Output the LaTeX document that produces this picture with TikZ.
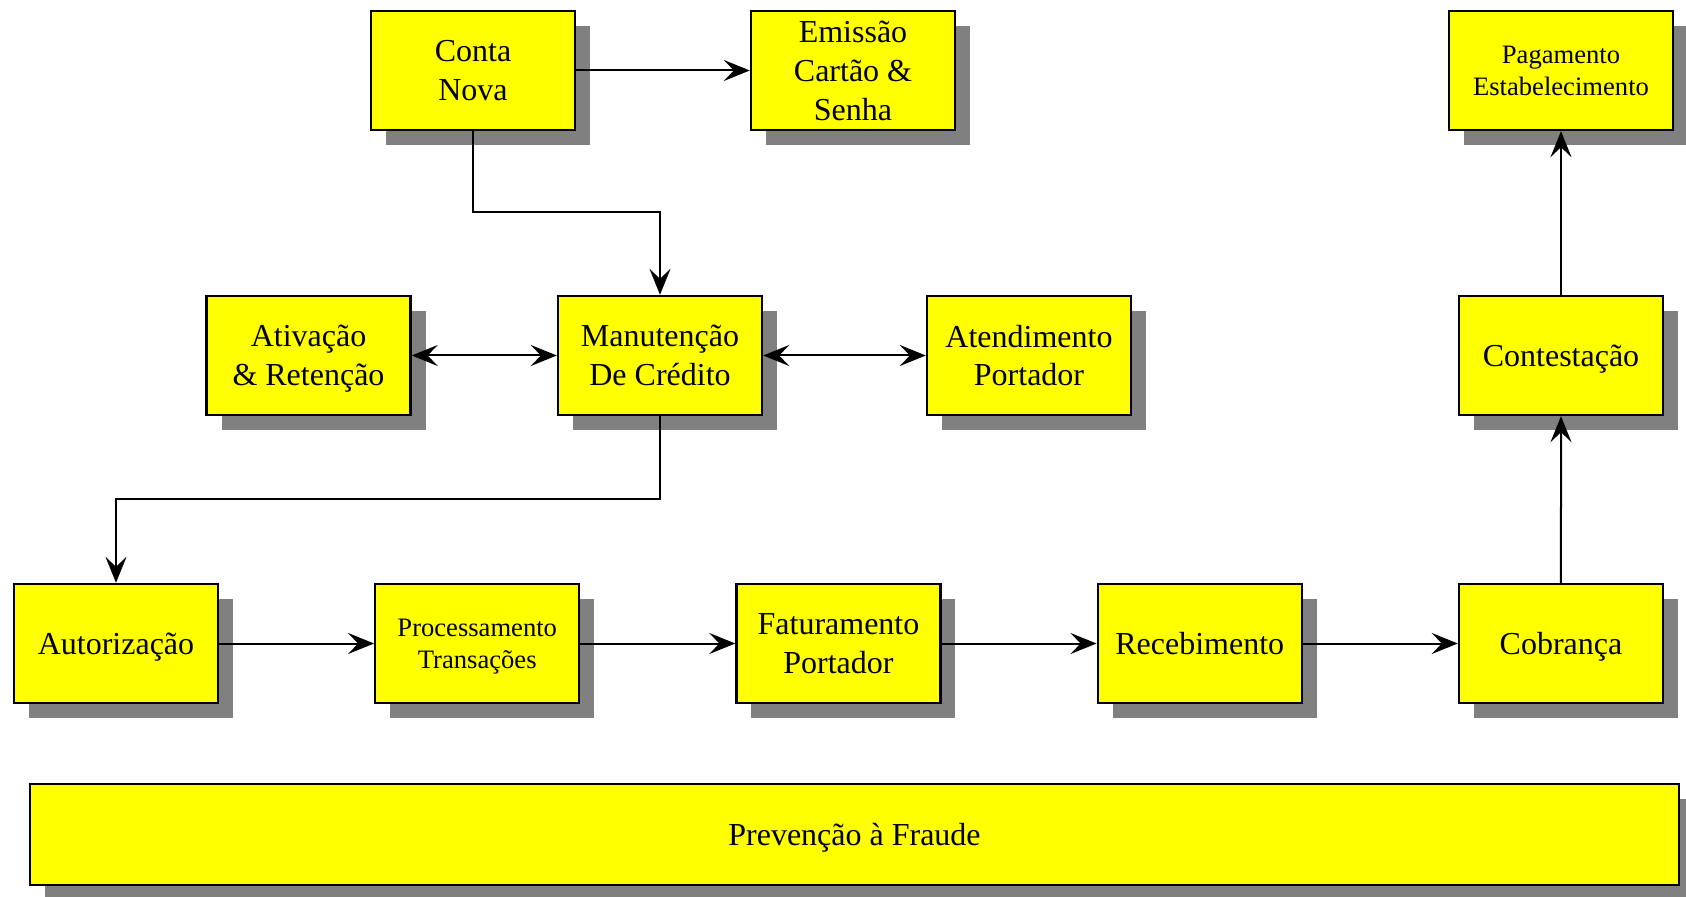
\documentclass[tikz,border=0pt]{standalone}
\usepackage{fontspec}
\setmainfont{Liberation Serif}
\usepackage{tikz}
\usetikzlibrary{calc,arrows.meta,shadows,positioning}
\definecolor{boxyellow}{RGB}{255,255,0}
\definecolor{shadowgrey}{RGB}{128,128,128}

\begin{document}
\begin{tikzpicture}[x=0.5pt,y=-0.5pt,node distance=77.42pt and 77.42pt,>={Stealth[length=13pt,width=10.5pt,inset=5pt]}]

\tikzset{yellowbox/.style={draw,line width=1.2pt,fill=boxyellow,inner sep=0pt,align=center,text depth=0pt,minimum width=102pt,minimum height=59.5pt,font=\fontsize{16}{19.4}\selectfont,drop shadow={shadow xshift=7.5pt,shadow yshift=-7.5pt,fill=shadowgrey,opacity=1}},
smalltext/.style={font=\fontsize{13.3}{16}\selectfont},
link/.style={line width=1pt}}

\useasboundingbox (0,0) rectangle (1686,897);

% top row
\node[yellowbox] (conta) at (473,70.5) {Conta\\Nova};
\node[yellowbox] (emissao) at (853,70.5) {Emiss\~ao\\Cart\~ao \&\\Senha};
\node[yellowbox,smalltext,minimum width=112pt] (pagamento) at (1561,70.5) {Pagamento\\Estabelecimento};

% middle row
\node[yellowbox] (ativacao) at (308.5,355.5) {Ativa\c{c}\~ao\\\& Reten\c{c}\~ao};
\node[yellowbox] (manutencao) at (660,355.5) {Manuten\c{c}\~ao\\De Cr\'edito};
\node[yellowbox] (atendimento) at (1029,355.5) {Atendimento\\Portador};
\node[yellowbox] (contestacao) at (1561,355.5) {Contesta\c{c}\~ao};

% bottom row
\node[yellowbox] (autorizacao) at (116,643.5) {Autoriza\c{c}\~ao};
\node[yellowbox,smalltext,right=of autorizacao] (processamento) {Processamento\\Transa\c{c}\~oes};
\node[yellowbox,right=of processamento] (faturamento) {Faturamento\\Portador};
\node[yellowbox,right=of faturamento] (recebimento) {Recebimento};
\node[yellowbox,right=of recebimento] (cobranca) {Cobran\c{c}a};

% fraud bar
\node[yellowbox,minimum width=824.5pt,minimum height=50.5pt] (prevencao) at (854.5,834.5) {Preven\c{c}\~ao \`a Fraude};

% Edges
\coordinate (bendA) at (660,212);
\coordinate (bendB) at (116,499);
\draw[link,->] (conta) -- (emissao);
\draw[link,->] (conta.south) |- (bendA) -- (manutencao.north);
\draw[link,<->] (ativacao) -- (manutencao); \draw[link,<->] (manutencao) -- (atendimento);
\draw[link,->] (manutencao.south) |- (bendB) -- (autorizacao.north);
\draw[link,->] (autorizacao) -- (processamento); \draw[link,->] (processamento) -- (faturamento);
\draw[link,->] (faturamento) -- (recebimento); \draw[link,->] (recebimento) -- (cobranca);
\draw[link,->] (cobranca) -- (contestacao); \draw[link,->] (contestacao) -- (pagamento);

\end{tikzpicture}
\end{document}
